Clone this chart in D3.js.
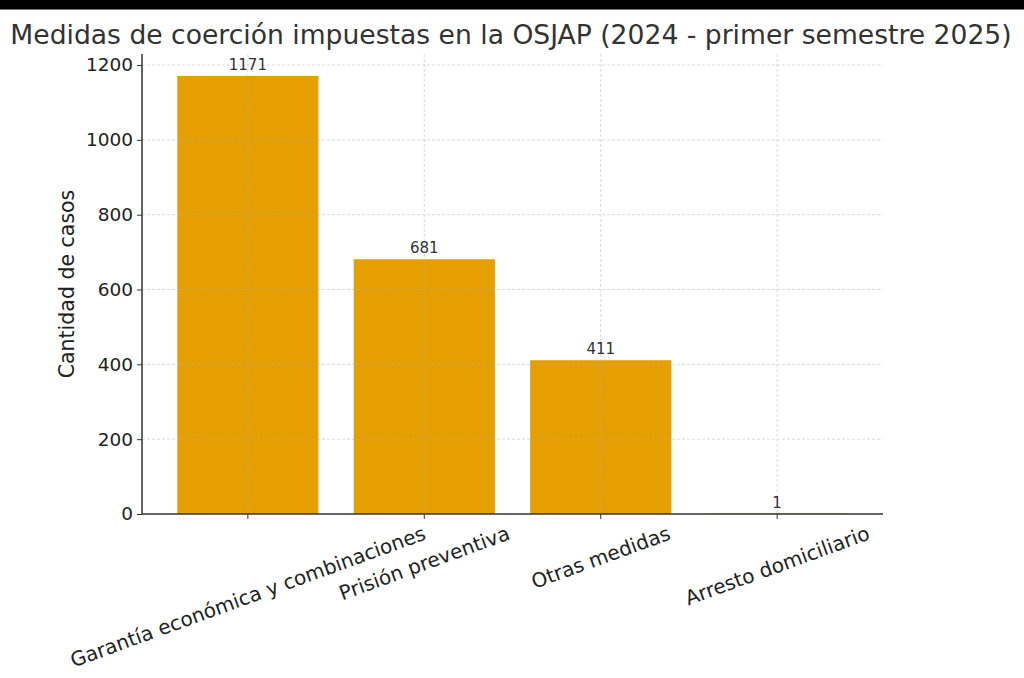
<!DOCTYPE html>
<html>
<head>
<meta charset="utf-8">
<script src="https://cdn.jsdelivr.net/npm/d3@7"></script>
<style>
  body { margin: 0; background: #fff; }
  svg { display: block; font-family: "DejaVu Sans", sans-serif; }
</style>
</head>
<body>
<svg id="chart"></svg>
<script>
// data
var categories = ["Garantía económica y combinaciones", "Prisión preventiva", "Otras medidas", "Arresto domiciliario"]
var casos = [1171, 681, 411, 1]
var yTicks = [0, 200, 400, 600, 800, 1000, 1200]
var titulo = "Medidas de coerción impuestas en la OSJAP (2024 - primer semestre 2025)"
var yLabel = "Cantidad de casos"

var width = 1024
var height = 678
var margin = {top: 54, right: 141, bottom: 164, left: 142}
var innerW = width - margin.left - margin.right
var innerH = height - margin.top - margin.bottom

var svg = d3.select("#chart").attr("width", width).attr("height", height)

// black strip at the top of the screenshot
svg.append("rect").attr("x", 0).attr("y", 0).attr("width", width).attr("height", 9).attr("fill", "#000")
svg.append("line").attr("x1", 0).attr("x2", width).attr("y1", 9.5).attr("y2", 9.5)
  .attr("stroke", "#777").attr("stroke-width", 1)

svg.append("text")
  .attr("x", 511).attr("y", 44)
  .attr("text-anchor", "middle")
  .attr("font-size", 26.6)
  .attr("fill", "#333")
  .text(titulo)

var g = svg.append("g").attr("transform", "translate(" + margin.left + "," + margin.top + ")")

// matplotlib style: xlim -0.6..3.6, bar width 0.8
var x = d3.scaleLinear().domain([-0.6, 3.6]).range([0, innerW])
var xc = function(i) { return x(i) }
var bw = x(0.8) - x(0)

var y = d3.scaleLinear().domain([0, 1171 * 1.05]).range([innerH, 0])

// bars
g.selectAll("rect.bar")
  .data(casos)
  .enter()
  .append("rect")
  .attr("class", "bar")
  .attr("x", (d, i) => xc(i) - bw / 2)
  .attr("width", bw)
  .attr("y", d => y(d))
  .attr("height", d => innerH - y(d))
  .attr("fill", "#E69F00")

// grid on top, faint
var grid = g.append("g")
grid.selectAll("line.h")
  .data(yTicks.slice(1))
  .enter()
  .append("line")
  .attr("x1", 0).attr("x2", innerW)
  .attr("y1", d => y(d)).attr("y2", d => y(d))
  .attr("stroke", "#b0b0b0").attr("stroke-opacity", 0.6)
  .attr("stroke-dasharray", "3,2").attr("stroke-width", 0.8)
grid.selectAll("line.v")
  .data(categories)
  .enter()
  .append("line")
  .attr("x1", (d, i) => xc(i)).attr("x2", (d, i) => xc(i))
  .attr("y1", 0).attr("y2", innerH)
  .attr("stroke", "#b0b0b0").attr("stroke-opacity", 0.6)
  .attr("stroke-dasharray", "3,2").attr("stroke-width", 0.8)

// value labels
g.selectAll("text.val")
  .data(casos)
  .enter()
  .append("text")
  .attr("x", (d, i) => xc(i))
  .attr("y", d => y(d) - 6)
  .attr("text-anchor", "middle")
  .attr("font-size", 15)
  .attr("fill", "#333")
  .text(d => d)

// y axis
var yAxis = g.append("g")
  .call(d3.axisLeft(y).tickValues(yTicks).tickSize(5).tickPadding(4).tickFormat(d3.format("d")))
yAxis.select(".domain").attr("stroke", "#333").attr("stroke-width", 1.5).attr("d", "M0," + innerH + "V0")
yAxis.selectAll(".tick line").attr("stroke", "#333")
yAxis.selectAll(".tick text").attr("font-size", 18.5).attr("fill", "#222").attr("font-family", "DejaVu Sans")

// x axis
var xAxis = g.append("g").attr("transform", "translate(0," + innerH + ")")
xAxis.append("line").attr("x1", 0).attr("x2", innerW).attr("stroke", "#333").attr("stroke-width", 1.5)
xAxis.selectAll("line.tk")
  .data(categories)
  .enter()
  .append("line")
  .attr("x1", (d, i) => xc(i)).attr("x2", (d, i) => xc(i))
  .attr("y1", 0).attr("y2", 5)
  .attr("stroke", "#333")

var ang = 20 * Math.PI / 180
var fsX = 20
xAxis.selectAll("text.lbl")
  .data(categories)
  .enter()
  .append("text")
  .attr("font-size", fsX)
  .attr("fill", "#222")
  .attr("text-anchor", "middle")
  .attr("dy", "0.35em")
  .text(d => d)
  .each(function(d, i) {
    var w = this.getComputedTextLength()
    var h = fsX * 1.1
    var bh = w * Math.sin(ang) + h * Math.cos(ang)
    d3.select(this).attr("transform", "translate(" + xc(i) + "," + (8 + bh / 2) + ") rotate(-20)")
  })

// y label
svg.append("text")
  .attr("transform", "translate(74," + (margin.top + innerH / 2) + ") rotate(-90)")
  .attr("text-anchor", "middle")
  .attr("font-size", 20.5)
  .attr("fill", "#222")
  .text(yLabel)
</script>
</body>
</html>
